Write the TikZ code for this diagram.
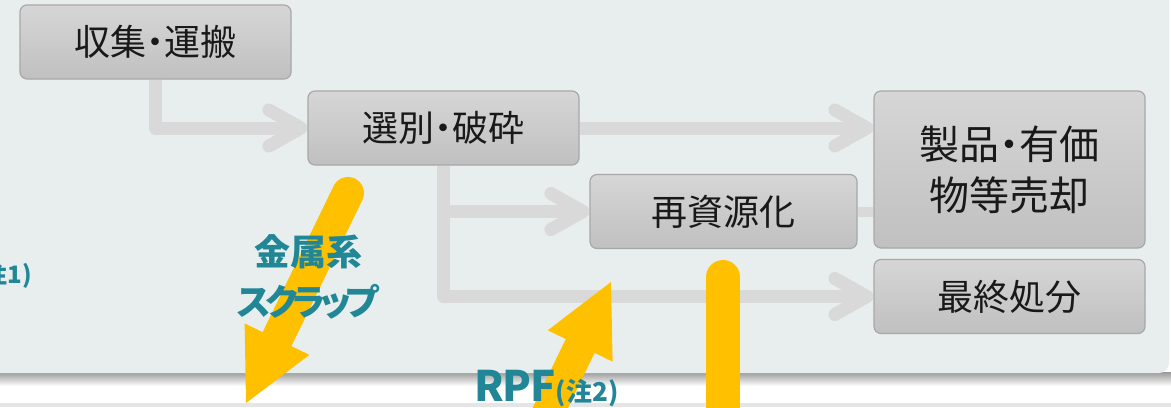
\documentclass[tikz,border=0pt]{standalone}
\usepackage{fontspec}
\usepackage{tikz}
\usetikzlibrary{arrows.meta,calc}
\newfontfamily\jpfont{Noto Sans CJK JP}[RawFeature=+palt]
\definecolor{panelbg}{RGB}{232,238,238}
\definecolor{boxtop}{RGB}{214,214,214}
\definecolor{boxbot}{RGB}{192,192,192}
\definecolor{boxline}{RGB}{168,168,168}
\definecolor{flowgray}{RGB}{217,217,217}
\definecolor{flowyellow}{RGB}{255,192,0}
\definecolor{labelteal}{RGB}{33,135,150}
\tikzset{
  procbox/.style={draw=boxline, line width=0.6pt, rounded corners=3.5pt,
    top color=boxtop, bottom color=boxbot, minimum width=135.5pt,
    minimum height=37pt, inner sep=0pt, align=center, text=black!90,
    font=\jpfont\fontsize{18}{25.5}\selectfont},
  flow/.style={draw=flowgray, line width=6.5pt, line join=round,
    -{Straight Barb[length=16pt,width=18pt,round]}},
  bigarrow/.style={draw=flowyellow, line width=16pt, line cap=round,
    -{Triangle[length=35.5pt,width=36pt,line width=0pt 0 0]}},
  tealtext/.style={text=labelteal, inner sep=0pt, align=center,
    font=\jpfont\bfseries\fontsize{18}{25}\selectfont}
}

\begin{document}
\begin{tikzpicture}[x=0.5pt,y=-0.5pt]
  \useasboundingbox (0,0) rectangle (1171,407);
  \clip (0,0) rectangle (1171,407);
  \fill[white] (0,0) rectangle (1171,407);
  \fill[black!10] (0,403) rectangle (1171,407);
  \shade[top color=black!40, bottom color=white] (0,372) rectangle (1171,386);
  \fill[panelbg, rounded corners=5pt] (-20,-20) rectangle (1169,373);

  \node[procbox] (collect) at (155.5,42) {収集・運搬};
  \node[procbox] (sort) at (443.5,128) {選別・破砕};
  \node[procbox, minimum width=133.5pt] (recycle) at (723.5,211.5) {再資源化};
  \node[procbox, minimum height=78.5pt, font=\jpfont\fontsize{20}{25.5}\selectfont]
    (sell) at (1009.5,169.5) {製品・有価\\物等売却};
  \node[procbox] (final) at (1009.5,296.5) {最終処分};

  \draw[flow] (collect.south) |- (sort.west);
  \draw[flow] (sort.east) -- (sort.east -| sell.west);
  \draw[flow] (sort.south) |- (final.west);
  \draw[flow] (sort.south |- recycle.west) -- (recycle.west);
  \draw[flowgray, line width=5pt] (recycle.east) -- (recycle.east -| sell.west);

  \coordinate (metalfrom) at (348,193);
  \coordinate (metalto) at (246,403);
  \coordinate (rpffrom) at (530,450);
  \coordinate (rpfto) at (611,282);
  \coordinate (residuetop) at (723,277);
  \coordinate (residueend) at (723,450);
  \draw[bigarrow] (metalfrom) -- (metalto);
  \draw[bigarrow] (rpffrom) -- (rpfto);
  \draw[flowyellow, line width=17pt, line cap=round] (residuetop) -- (residueend);

  \node[tealtext] (metal) at (308,277)
    {金属系\\{\addfontfeature{LetterSpace=-14}スクラップ}};
  \node[tealtext, anchor=base west, font=\jpfont\bfseries\fontsize{21}{26}\selectfont]
    (rpf) at (474,401) {{\addfontfeature{LetterSpace=-3}RPF}{\fontsize{13}{16}\selectfont(注2)}};
  \node[tealtext, anchor=base east, font=\jpfont\bfseries\fontsize{12}{14}\selectfont]
    (note1) at (32,283) {(注1)};
\end{tikzpicture}
\end{document}
